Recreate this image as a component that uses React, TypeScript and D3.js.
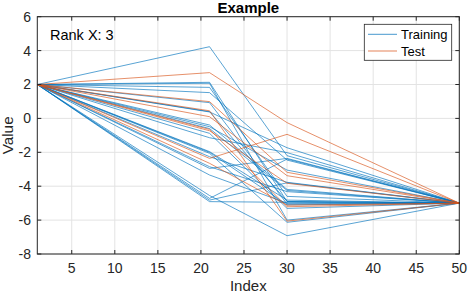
import React from "react";
import * as d3 from "d3";

const xKnots = [1, 21, 30, 50];
const startValue = 2;
const endValue = -5;

// [value at x=21, value at x=30]
const trainingMid: [number, number][] = [
  [4.23, -2.2],
  [2.13, -4.9],
  [2.07, -6.0],
  [1.83, -4.6],
  [1.52, -2.46],
  [0.93, -5.05],
  [0.38, -1.73],
  [0.4, -4.9],
  [-0.39, -4.19],
  [-0.49, -3.05],
  [-0.6, -4.25],
  [-0.88, -5.31],
  [-1.14, -2.02],
  [-1.96, -4.82],
  [-2.0, -5.1],
  [-2.06, -6.13],
  [-2.26, -3.77],
  [-2.85, -4.32],
  [-2.95, -2.36],
  [-3.34, -5.0],
  [-4.55, -6.92],
  [-4.72, -2.4],
  [-4.82, -3.8],
  [-4.91, -4.95],
];

const testMid: [number, number][] = [
  [2.7, -0.25],
  [0.99, -3.18],
  [0.45, -6.06],
  [0.1, -3.38],
  [-0.65, -5.21],
  [-0.73, -3.83],
  [-2.36, -0.94],
  [-2.65, -5.12],
];

const xTicks = [5, 10, 15, 20, 25, 30, 35, 40, 45, 50];
const yTicks = [-8, -6, -4, -2, 0, 2, 4, 6];

const blue = "#0072BD";
const orange = "#D95319";
const font = "'Liberation Sans', Arial, Helvetica, sans-serif";

export default function App() {
  const left = 37.3, right = 459.3, top = 16.7, bottom = 254;
  const x = d3.scaleLinear().domain([1, 50]).range([left, right]);
  const y = d3.scaleLinear().domain([-8, 6]).range([bottom, top]);
  const line = d3
    .line<[number, number]>()
    .x((d) => x(d[0]))
    .y((d) => y(d[1]));
  const mk = (m: [number, number]) =>
    line([
      [xKnots[0], startValue],
      [xKnots[1], m[0]],
      [xKnots[2], m[1]],
      [xKnots[3], endValue],
    ]) || "";
  const axisColor = "#262626";
  return (
    <svg
      width={468}
      height={294}
      style={{ position: "absolute", left: 0, top: 0, background: "#fff" }}
      fontFamily={font}
    >
      <rect x={0} y={0} width={468} height={294} fill="#fff" />
      {xTicks.map((t) => (
        <line key={"gx" + t} x1={x(t)} x2={x(t)} y1={top} y2={bottom} stroke="#e3e3e3" strokeWidth={1} />
      ))}
      {yTicks.map((t) => (
        <line key={"gy" + t} x1={left} x2={right} y1={y(t)} y2={y(t)} stroke="#e3e3e3" strokeWidth={1} />
      ))}
      <g fill="none" strokeWidth={0.9} strokeOpacity={0.72}>
        {trainingMid.map((m, i) => (
          <path key={"tr" + i} d={mk(m)} stroke={blue} />
        ))}
        {testMid.map((m, i) => (
          <path key={"te" + i} d={mk(m)} stroke={orange} />
        ))}
      </g>
      <rect x={left} y={top} width={right - left} height={bottom - top} fill="none" stroke={axisColor} strokeWidth={1} />
      {xTicks.map((t) => (
        <g key={"tx" + t}>
          <line x1={x(t)} x2={x(t)} y1={bottom} y2={bottom - 4} stroke={axisColor} />
          <line x1={x(t)} x2={x(t)} y1={top} y2={top + 4} stroke={axisColor} />
          <text x={x(t)} y={273} fontSize={14} textAnchor="middle" fill={axisColor}>
            {t}
          </text>
        </g>
      ))}
      {yTicks.map((t) => (
        <g key={"ty" + t}>
          <line x1={left} x2={left + 4} y1={y(t)} y2={y(t)} stroke={axisColor} />
          <line x1={right} x2={right - 4} y1={y(t)} y2={y(t)} stroke={axisColor} />
          <text x={31} y={y(t)} dy="0.35em" fontSize={14} textAnchor="end" fill={axisColor}>
            {t}
          </text>
        </g>
      ))}
      <text x={(left + right) / 2} y={12.5} fontSize={15} fontWeight="bold" textAnchor="middle" fill="#000">
        Example
      </text>
      <text x={(left + right) / 2} y={290.5} fontSize={15} textAnchor="middle" fill={axisColor}>
        Index
      </text>
      <text
        transform={`translate(12.5,${(top + bottom) / 2}) rotate(-90)`}
        fontSize={15.3}
        textAnchor="middle"
        fill={axisColor}
      >
        Value
      </text>
      <text x={50} y={40} fontSize={14.5} fill="#000">
        Rank X: 3
      </text>
      <rect x={364.3} y={24.3} width={87.4} height={36} fill="#fff" stroke={axisColor} strokeWidth={0.8} />
      <line x1={368} x2={397} y1={34.3} y2={34.3} stroke={blue} strokeOpacity={0.72} />
      <line x1={368} x2={397} y1={51} y2={51} stroke={orange} strokeOpacity={0.72} />
      <text x={401} y={34.3} dy="0.35em" fontSize={13} fill="#000">
        Training
      </text>
      <text x={401} y={51} dy="0.35em" fontSize={13} fill="#000">
        Test
      </text>
    </svg>
  );
}
